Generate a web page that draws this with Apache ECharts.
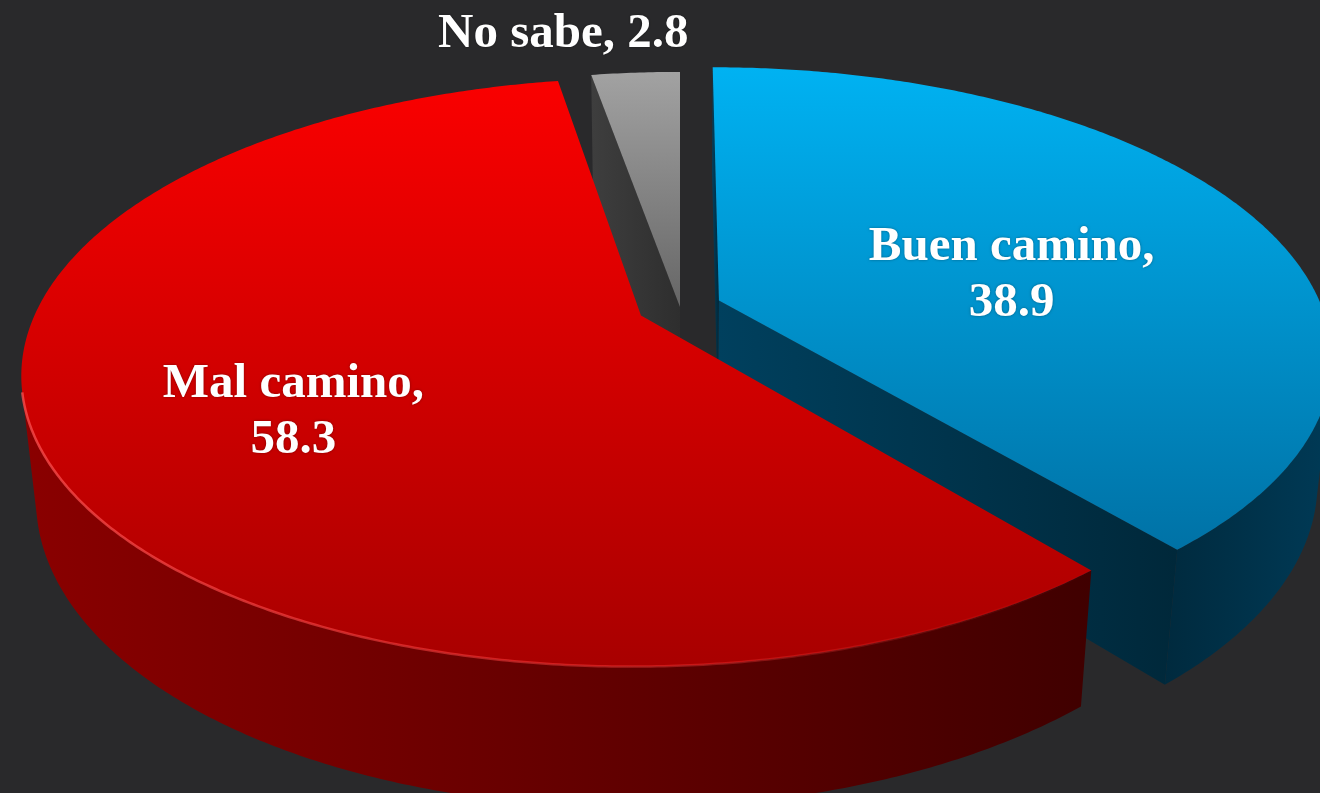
<!DOCTYPE html>
<html>
<head>
<meta charset="utf-8">
<script src="https://cdn.jsdelivr.net/npm/echarts@6/dist/echarts.min.js"></script>
<style>
html,body{margin:0;padding:0;background:#29292b;}
#chart{width:1320px;height:793px;}
</style>
</head>
<body>
<div id="chart"></div>
<script>
// ---- data ----
const categories = ['Buen camino', 'Mal camino', 'No sabe'];
const values = [38.9, 58.3, 2.8];
const labelTexts = ['Buen camino,\n38.9', 'Mal camino,\n58.3', 'No sabe, 2.8'];

// ---- layout / style (not data) ----
const CX = 680, CY = 307, F = 2876, FX = 2876 * 0.975, DIST = 4.65;
const SIN_A = 0.453, COS_A = Math.sqrt(1 - SIN_A * SIN_A);
const H = 0.225;
const explode = [0.069, 0.071, 0];
const labelPos = [[0.53, 5, 24], [0.58, -11, 24], [1.2, -65, 0]]; // [radius, dx, dy]
const topColors = [['#00b2f2', '#0072a6'], ['#fa0000', '#a80000'], ['#a2a2a2', '#666666']];
const wallColors = [['#002a3e', '#003a56'], ['#8a0000', '#400000'], ['#3c3c3c', '#2c2c2c']];
const cutColors = [['#00405e', '#00283a'], ['#700000', '#400000'], ['#3e3e3e', '#2e2e2e']];

const total = values.reduce((a, b) => a + b, 0);
const starts = [];
{ let c = 0; values.forEach(v => { starts.push(c / total * 360); c += v; }); }
const rad = d => d * Math.PI / 180;

function project(u, h, v) {
  const yc = h * COS_A + v * SIN_A;
  const zc = DIST + v * COS_A - h * SIN_A;
  return [CX + FX * u / zc, CY - F * yc / zc, zc];
}
const CAM_V = -DIST * COS_A;

function grad(c, horiz) {
  return new echarts.graphic.LinearGradient(0, 0, horiz ? 1 : 0, horiz ? 0 : 1,
    [{ offset: 0, color: c[0] }, { offset: 1, color: c[1] }]);
}

function renderSlice(params, api) {
  const i = params.dataIndex;
  const val = api.value(1);
  const ts = starts[i], te = ts + val / total * 360, tm = (ts + te) / 2;
  const ox = explode[i] * Math.sin(rad(tm)), ov = explode[i] * Math.cos(rad(tm));
  const children = [];
  const step = 0.5;
  const angs = [];
  for (let t = ts; t < te; t += step) angs.push(t);
  angs.push(te);

  // top face
  const top = [project(ox, 0, ov).slice(0, 2)];
  angs.forEach(t => top.push(project(ox + Math.sin(rad(t)), 0, ov + Math.cos(rad(t))).slice(0, 2)));
  children.push({ type: 'polygon', z2: 200, shape: { points: top },
    style: { fill: grad(topColors[i], false), stroke: null } });

  // outer wall: visible part
  const vis = angs.map(t => {
    const s = Math.sin(rad(t)), c = Math.cos(rad(t));
    const pu = ox + s, pv = ov + c;
    return s * (0 - pu) + c * (CAM_V - pv) > 0;
  });
  let run = [];
  const runs = [];
  angs.forEach((t, k) => { if (vis[k]) run.push(t); else { if (run.length > 1) runs.push(run); run = []; } });
  if (run.length > 1) runs.push(run);
  runs.forEach(r => {
    const upper = r.map(t => project(ox + Math.sin(rad(t)), 0, ov + Math.cos(rad(t))));
    const lower = r.map(t => project(ox + Math.sin(rad(t)), -H, ov + Math.cos(rad(t))));
    const zm = upper.reduce((a, p) => a + p[2], 0) / upper.length;
    const pts = upper.map(p => p.slice(0, 2)).concat(lower.reverse().map(p => p.slice(0, 2)));
    children.push({ type: 'polygon', z2: 100 - zm * 10, shape: { points: pts },
      style: { fill: grad(wallColors[i], true), stroke: null } });
    if (i === 1) {
      children.push({ type: 'polyline', z2: 201, shape: { points: upper.map(p => p.slice(0, 2)) },
        style: { stroke: new echarts.graphic.LinearGradient(0, 0, 1, 0, [
          { offset: 0, color: 'rgba(255,80,80,0.75)' }, { offset: 0.55, color: 'rgba(255,60,60,0.45)' },
          { offset: 1, color: 'rgba(255,60,60,0)' }]), lineWidth: 2.5, fill: null } });
    }
  });

  // cut faces
  [[ts, -1], [te, 1]].forEach(([t, sgn]) => {
    if (val / total >= 0.999) return;
    const s = Math.sin(rad(t)), c = Math.cos(rad(t));
    const nu = sgn * c, nv = -sgn * s;
    const pu = ox + 0.5 * s, pv = ov + 0.5 * c;
    if (nu * (0 - pu) + nv * (CAM_V - pv) <= 1e-6) return;
    const a0 = project(ox, 0, ov), a1 = project(ox + s, 0, ov + c);
    const b1 = project(ox + s, -H, ov + c), b0 = project(ox, -H, ov);
    const zm = (a0[2] + a1[2]) / 2;
    children.push({ type: 'polygon', z2: 100 - zm * 10,
      shape: { points: [a0, a1, b1, b0].map(p => p.slice(0, 2)) },
      style: { fill: grad(cutColors[i], true), stroke: null } });
  });

  // label
  const [lr, ldx, ldy] = labelPos[i];
  const lp = project(ox + lr * Math.sin(rad(tm)), 0, ov + lr * Math.cos(rad(tm)));
  children.push({ type: 'text', z2: 300, x: lp[0] + ldx, y: lp[1] + ldy,
    style: { text: labelTexts[i], fill: '#ffffff', font: 'bold 49px "Liberation Serif", "Times New Roman", serif',
      align: 'center', verticalAlign: 'middle', lineHeight: 56,
      textShadowColor: 'rgba(0,0,0,0.35)', textShadowBlur: 3 } });

  return { type: 'group', children };
}

const chart = echarts.init(document.getElementById('chart'), null, { renderer: 'canvas' });
chart.setOption({
  backgroundColor: '#29292b',
  animation: false,
  series: [{
    type: 'custom',
    coordinateSystem: 'none',
    silent: true,
    renderItem: renderSlice,
    data: categories.map((c, k) => ({ name: c, value: [k, values[k]] }))
  }]
});
</script>
</body>
</html>
